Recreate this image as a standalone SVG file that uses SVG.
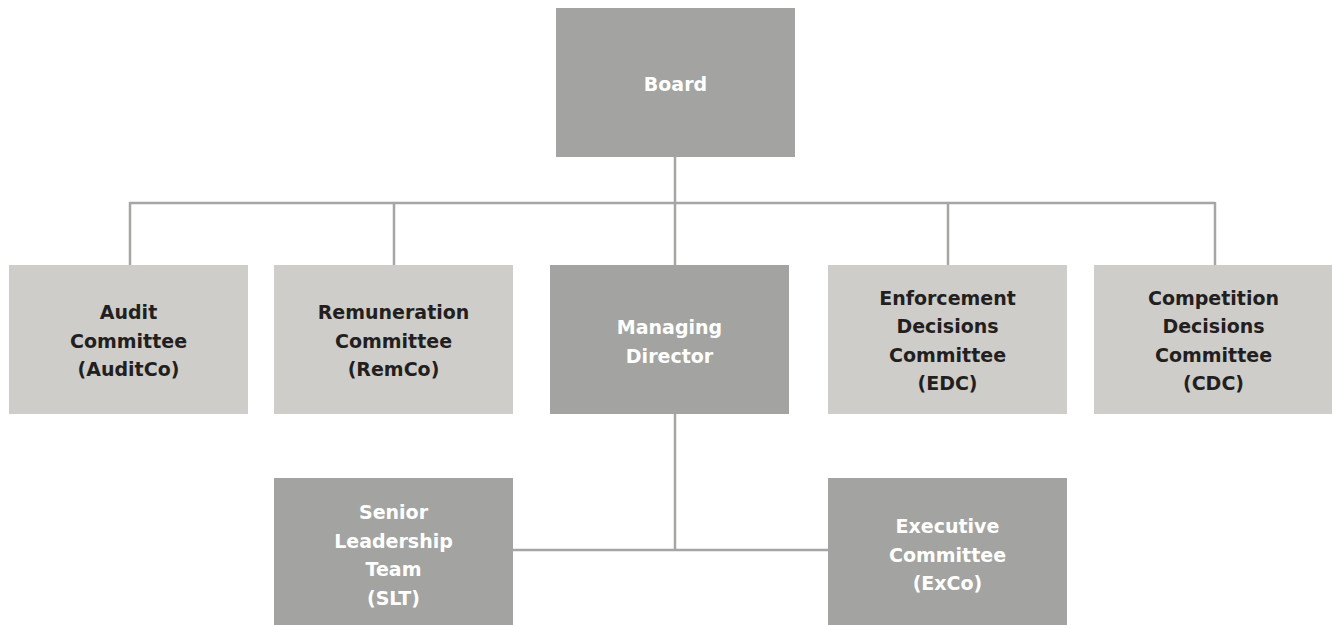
<svg xmlns="http://www.w3.org/2000/svg" width="1332" height="625" viewBox="0 0 1332 625">
<style>
.dark{fill:#a3a4a1}
.light{fill:#cfcdc9}
.tw{fill:#ffffff;font-family:"DejaVu Sans","Liberation Sans",sans-serif;font-weight:700;font-size:19px;text-anchor:middle}
.tb{fill:#231f20;font-family:"DejaVu Sans","Liberation Sans",sans-serif;font-weight:700;font-size:19px;text-anchor:middle}
.conn{stroke:#a5a5a3;stroke-width:2.5;fill:none}
</style>
<rect width="1332" height="625" fill="#ffffff"/>
<g id="connectors" class="conn">
<line x1="675" y1="157" x2="675" y2="265"/>
<line x1="130" y1="203" x2="1215" y2="203"/>
<line x1="130" y1="202" x2="130" y2="265"/>
<line x1="394" y1="202" x2="394" y2="265"/>
<line x1="948" y1="202" x2="948" y2="265"/>
<line x1="1215" y1="202" x2="1215" y2="265"/>
<line x1="675" y1="414" x2="675" y2="550"/>
<line x1="513" y1="550" x2="828" y2="550"/>
</g>
<g id="board">
<rect class="dark" x="556" y="8" width="239" height="149"/>
<text class="tw" x="675.5" y="91">Board</text>
</g>
<g id="auditco">
<rect class="light" x="9" y="265" width="239" height="149"/>
<text class="tb" x="128.5" y="319">Audit</text>
<text class="tb" x="128.5" y="347.5">Committee</text>
<text class="tb" x="128.5" y="376">(AuditCo)</text>
</g>
<g id="remco">
<rect class="light" x="274" y="265" width="239" height="149"/>
<text class="tb" x="393.5" y="319">Remuneration</text>
<text class="tb" x="393.5" y="347.5">Committee</text>
<text class="tb" x="393.5" y="376">(RemCo)</text>
</g>
<g id="md">
<rect class="dark" x="550" y="265" width="239" height="149"/>
<text class="tw" x="669.5" y="334">Managing</text>
<text class="tw" x="669.5" y="362.5">Director</text>
</g>
<g id="edc">
<rect class="light" x="828" y="265" width="239" height="149"/>
<text class="tb" x="947.5" y="304.5">Enforcement</text>
<text class="tb" x="947.5" y="333">Decisions</text>
<text class="tb" x="947.5" y="361.5">Committee</text>
<text class="tb" x="947.5" y="390">(EDC)</text>
</g>
<g id="cdc">
<rect class="light" x="1094" y="265" width="239" height="149"/>
<text class="tb" x="1213.5" y="304.5">Competition</text>
<text class="tb" x="1213.5" y="333">Decisions</text>
<text class="tb" x="1213.5" y="361.5">Committee</text>
<text class="tb" x="1213.5" y="390">(CDC)</text>
</g>
<g id="slt">
<rect class="dark" x="274" y="478" width="239" height="147"/>
<text class="tw" x="393.5" y="519">Senior</text>
<text class="tw" x="393.5" y="547.5">Leadership</text>
<text class="tw" x="393.5" y="576">Team</text>
<text class="tw" x="393.5" y="604.5">(SLT)</text>
</g>
<g id="exco">
<rect class="dark" x="828" y="478" width="239" height="147"/>
<text class="tw" x="947.5" y="533">Executive</text>
<text class="tw" x="947.5" y="561.5">Committee</text>
<text class="tw" x="947.5" y="590">(ExCo)</text>
</g>
</svg>
